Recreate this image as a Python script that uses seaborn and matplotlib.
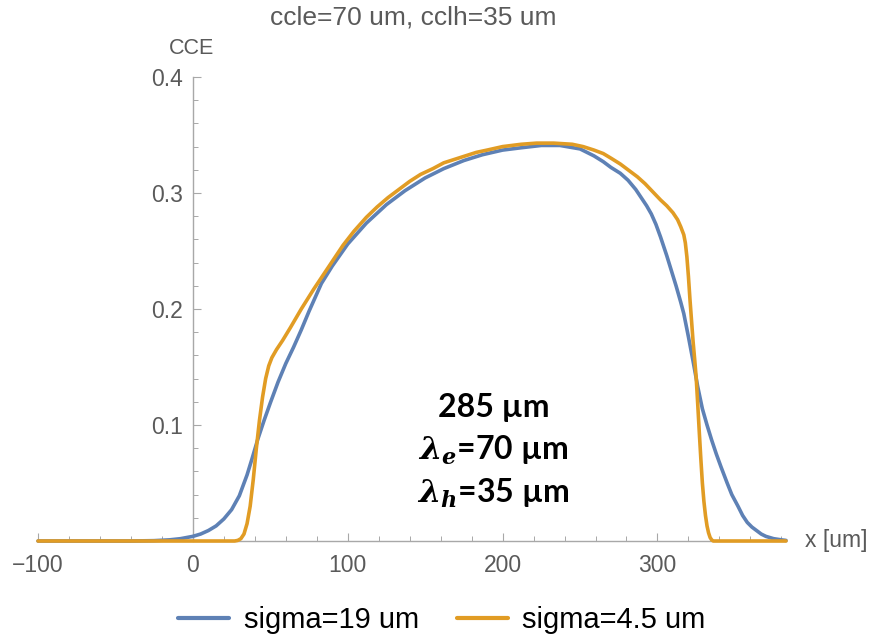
import matplotlib
matplotlib.use("Agg")
import matplotlib.pyplot as plt
import seaborn as sns
import pandas as pd
from matplotlib.ticker import MultipleLocator, FixedLocator
from matplotlib.lines import Line2D

# ---- data ----
blue_x = [-100, -40, -25, -15, -8, 0, 5, 10, 15, 20, 25, 30, 35, 38, 42, 46, 50, 55, 60, 65, 70, 75,
          80, 83, 90, 100, 112, 125, 137, 150, 162, 175, 187, 200, 212, 225, 237, 250, 259, 265, 270,
          276, 281, 286, 290, 293, 296, 299, 302, 306, 309, 312, 315, 317, 320, 323, 326, 329, 332,
          335, 338, 341, 345, 348, 352, 355, 358, 361, 364, 367, 370, 375, 380, 383]
blue_y = [0, 0, 0.0003, 0.001, 0.002, 0.004, 0.006, 0.009, 0.013, 0.019, 0.027, 0.039, 0.057, 0.070,
          0.088, 0.104, 0.119, 0.137, 0.153, 0.167, 0.182, 0.198, 0.213, 0.222, 0.237, 0.256, 0.274,
          0.290, 0.302, 0.313, 0.321, 0.328, 0.333, 0.337, 0.339, 0.341, 0.341, 0.338, 0.332, 0.327,
          0.322, 0.317, 0.311, 0.303, 0.295, 0.289, 0.282, 0.273, 0.262, 0.246, 0.233, 0.220, 0.206,
          0.196, 0.176, 0.155, 0.133, 0.114, 0.100, 0.087, 0.075, 0.064, 0.050, 0.040, 0.030, 0.022,
          0.016, 0.012, 0.009, 0.006, 0.004, 0.002, 0.001, 0.0005]
orange_x = [-100, 27, 29, 31, 33, 35, 37, 39, 41, 43, 45, 47, 49, 51, 54, 58, 63, 70, 78, 83, 90, 97,
            104, 112, 119, 126, 133, 140, 147, 155, 162, 169, 176, 183, 190, 200, 212, 222, 233, 245,
            252, 259, 265, 270, 276, 281, 287, 292, 297, 302, 306, 310, 313, 315, 317, 318, 319, 320,
            321, 322, 323, 324, 325, 326, 327, 328, 329, 330, 331, 332, 333, 334, 335, 336, 383]
orange_y = [0, 0, 0.0005, 0.002, 0.006, 0.015, 0.030, 0.053, 0.080, 0.104, 0.124, 0.140, 0.151, 0.158,
            0.165, 0.173, 0.184, 0.200, 0.217, 0.227, 0.241, 0.255, 0.267, 0.279, 0.288, 0.296, 0.303,
            0.310, 0.316, 0.321, 0.326, 0.329, 0.332, 0.335, 0.337, 0.340, 0.342, 0.343, 0.343, 0.342,
            0.340, 0.337, 0.334, 0.330, 0.325, 0.320, 0.314, 0.308, 0.301, 0.294, 0.289, 0.283, 0.277,
            0.271, 0.264, 0.257, 0.245, 0.228, 0.208, 0.190, 0.172, 0.157, 0.141, 0.118, 0.094, 0.071,
            0.050, 0.034, 0.022, 0.013, 0.007, 0.003, 0.001, 0, 0]
series_labels = ["sigma=19 um", "sigma=4.5 um"]
x_ticks = [-100, 0, 100, 200, 300]
y_ticks = [0.1, 0.2, 0.3, 0.4]
title = "ccle=70 um, cclh=35 um"
annot_lines = ["285 µm", r"$\lambda_e$=70 µm", r"$\lambda_h$=35 µm"]

df = pd.concat([
    pd.DataFrame({"x": blue_x, "y": blue_y, "s": series_labels[0]}),
    pd.DataFrame({"x": orange_x, "y": orange_y, "s": series_labels[1]}),
])

sns.set_style("white")
plt.rcParams["font.family"] = ["Liberation Sans", "DejaVu Sans"]
plt.rcParams["mathtext.fontset"] = "custom"
plt.rcParams["mathtext.it"] = "DejaVu Serif:italic:bold"
plt.rcParams["mathtext.rm"] = "Lato:bold"

gray = "#5a5a5a"
axis_gray = "#a8a8a8"
palette = {series_labels[0]: "#5E81B5", series_labels[1]: "#E19C24"}

fig = plt.figure(figsize=(8.73, 6.37), dpi=100)
ax = fig.add_axes([38 / 873, 1 - 541 / 637, (786 - 38) / 873, (541 - 77) / 637])

sns.lineplot(data=df, x="x", y="y", hue="s", palette=palette, linewidth=2.6,
             ax=ax, sort=False, estimator=None, legend=False)
for ln in ax.lines:
    ln.set_clip_on(False)
    ln.set_solid_joinstyle("round")

ax.set_xlim(-100, 383)
ax.set_ylim(0, 0.4)
for s in ["top", "right"]:
    ax.spines[s].set_visible(False)
ax.spines["left"].set_position(("data", 0))
ax.spines["bottom"].set_position(("data", 0))
for s in ["left", "bottom"]:
    ax.spines[s].set_color(axis_gray)
    ax.spines[s].set_linewidth(1.0)
    ax.spines[s].set_zorder(0.5)

ax.xaxis.set_major_locator(FixedLocator(x_ticks))
ax.xaxis.set_minor_locator(MultipleLocator(20))
ax.yaxis.set_major_locator(FixedLocator(y_ticks))
ax.yaxis.set_minor_locator(MultipleLocator(0.02))
ax.set_xticklabels([str(v).replace("-", "\u2212") for v in x_ticks])
ax.set_yticklabels([f"{v:.1f}" for v in y_ticks])
ax.tick_params(which="both", bottom=True, left=True, top=False, right=False)
ax.tick_params(which="major", direction="in", length=6, width=0.8, color=axis_gray,
               labelsize=16.5, labelcolor=gray)
ax.tick_params(which="minor", direction="in", length=3.5, width=0.7, color=axis_gray)
ax.tick_params(axis="x", which="major", pad=9)
ax.tick_params(axis="y", which="major", pad=7)
ax.set_xlabel("")
ax.set_ylabel("")

fig.text(413 / 873, 1 - 18 / 637, title, ha="center", va="center", fontsize=19, color=gray)
fig.text(192 / 873, 1 - 48 / 637, "CCE", ha="center", va="center", fontsize=15.5, color=gray)
fig.text(805 / 873, 1 - 541 / 637, "x [um]", ha="left", va="center", fontsize=16.5, color=gray)

ys = [0.1155, 0.078, 0.041]
for t, yy in zip(annot_lines, ys):
    ax.text(194, yy, t, ha="center", va="center", fontsize=23, fontweight="bold",
            family="Lato", color="black")

handles = [Line2D([], [], color=palette[l], linewidth=3.0) for l in series_labels]
fig.legend(handles, series_labels, loc="center", bbox_to_anchor=(0.506, 1 - 620 / 637), ncol=2,
           frameon=False, fontsize=21, handlelength=1.75, columnspacing=1.3,
           labelcolor="black", handletextpad=0.5)

fig.savefig("out.png", dpi=100)
